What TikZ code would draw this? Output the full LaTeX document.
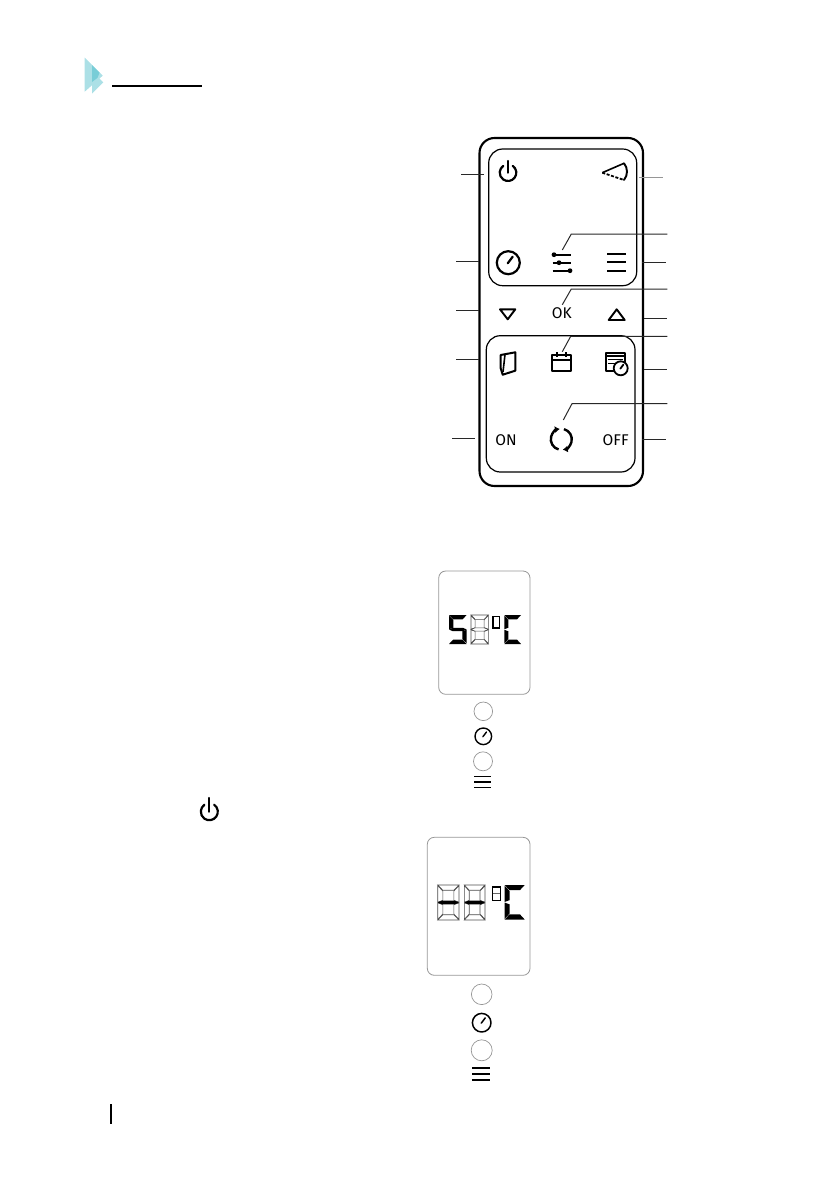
\documentclass[tikz,border=0pt]{standalone}
\usepackage{fontspec}
\setmainfont{Fira Sans}
\usepackage{tikz}
\usetikzlibrary{arrows.meta}
\definecolor{RemTeal}{RGB}{172,224,230}
\definecolor{RemTealDark}{RGB}{120,205,215}
\definecolor{RemGray}{RGB}{150,150,150}
\definecolor{RemLeader}{RGB}{40,40,40}
\tikzset{
  rem/case/.style={draw=black, line width=2.1pt, rounded corners=15pt},
  rem/panel/.style={draw=black, line width=1.2pt, rounded corners=14pt},
  rem/screen/.style={draw=RemGray, line width=0.8pt, rounded corners=7pt},
  rem/icon/.style={draw=black, line width=2.2pt, line cap=round, line join=round},
  rem/thin/.style={draw=black, line width=1.6pt, line join=round},
  rem/leader/.style={draw=RemLeader, line width=1pt},
  rem/label/.style={font=\fontsize{15.5}{15.5}\selectfont, inner sep=0pt, text=black},
  rem/blank/.style={draw=RemGray, line width=0.7pt},
  rem/segon/.style={fill=black},
  rem/segoff/.style={draw=black!70, line width=0.6pt},
  rem/logo/.style={fill=RemTeal}
}
% args: scope options, then segments a b c d e f g
\newcommand{\segdigit}[8]{%
  \begin{scope}[#1]
    \path[#2] (0,0) -- (1,0) -- (.76,.15) -- (.24,.15) -- cycle;
    \path[#3] (1,.02) -- (.76,.17) -- (.76,.44) -- (1,.49) -- cycle;
    \path[#4] (1,.51) -- (.76,.56) -- (.76,.83) -- (1,.98) -- cycle;
    \path[#5] (0,1) -- (1,1) -- (.76,.85) -- (.24,.85) -- cycle;
    \path[#6] (0,.51) -- (.24,.56) -- (.24,.83) -- (0,.98) -- cycle;
    \path[#7] (0,.02) -- (.24,.17) -- (.24,.44) -- (0,.49) -- cycle;
    \path[#8] (0,.5) -- (.2,.445) -- (.8,.445) -- (1,.5) -- (.8,.555) -- (.2,.555) -- cycle;
  \end{scope}}
% args: centre x, centre y, radius, line width
\newcommand{\gaugeicon}[4]{%
  \draw[rem/icon, line width=#4] (#1,#2) circle[radius=#3];
  \draw[rem/icon, line width=#4] (#1-0.05*#3,#2+0.05*#3) -- (#1+0.38*#3,#2-0.52*#3);}
% args: centre x, centre y, radius, stem top y
\newcommand{\powericon}[4]{%
  \draw[rem/icon] (#1,#2) ++(-55:#3) arc[start angle=-55, end angle=235, radius=#3];
  \draw[rem/icon] (#1,#4) -- (#1,#2);}
% args: x from, x to, y1, y2, y3
\newcommand{\menuicon}[5]{%
  \draw[rem/thin, line width=1.8pt] (#1,#3) -- (#2,#3);
  \draw[rem/thin, line width=1.8pt] (#1,#4) -- (#2,#4);
  \draw[rem/thin, line width=1.8pt] (#1,#5) -- (#2,#5);}
\begin{document}
\begin{tikzpicture}[x=1pt,y=-1pt]
  \useasboundingbox (0,0) rectangle (839,1191);
  % page header and page mark
  \fill[rem/logo] (84.7,57.7) -- (102.7,75.7) -- (84.7,91.7) -- cycle;
  \fill[rem/logo] (92,71.7) -- (103.3,82.3) -- (92,93.7) -- cycle;
  \fill[RemTealDark] (92,65) -- (99.5,72.7) -- (97.5,77.8) -- (92,82) -- cycle;
  \coordinate (headL) at (112,85.7);
  \coordinate (headR) at (202,85.7);
  \draw[black, line width=1.7pt] (headL) -- (headR);
  \coordinate (markT) at (110.7,1104);
  \coordinate (markB) at (110.7,1124);
  \draw[black, line width=1.6pt] (markT) -- (markB);

  % remote control
  \draw[rem/case] (479.5,138) rectangle (643,486);
  \draw[rem/panel] (488.7,149) rectangle (636.7,285.7);
  \draw[rem/panel] (486.3,335.7) rectangle (635,472);

  \powericon{508}{172.7}{8.3}{161}
  \draw[rem/thin] (624,163.3) -- (602.3,172.7);
  \draw[rem/thin, line width=1.8pt, dash pattern=on 3pt off 1.6pt] (602.3,172.7) -- (624,180);
  \draw[rem/icon, line width=1.9pt] (624,163.3) .. controls (628,168) and (628,175) .. (624,180);
  \gaugeicon{508.3}{262.7}{11.5}{2.2pt}

  \draw[rem/thin] (552.7,254.7) -- (570.7,254.7);
  \draw[rem/thin] (552.7,262.7) -- (570.7,262.7);
  \draw[rem/thin] (552.7,270.7) -- (570.7,270.7);
  \fill (554,254.7) circle[radius=2.4];
  \fill (559,262.7) circle[radius=2.4];
  \fill (570,270.7) circle[radius=2.4];
  \menuicon{607.3}{626}{254}{262.3}{270.7}

  \draw[rem/icon, line width=1.9pt] (500,309.3) -- (515.3,309.3) -- (507.7,319.3) -- cycle;
  \draw[rem/icon, line width=1.9pt] (608.7,320) -- (624.7,320) -- (616.7,309.3) -- cycle;
  \node[rem/label] (okLabel) at (561.7,313.3) {OK};

  \draw[rem/icon, line width=2pt] (500.7,355) -- (515.3,352.3) -- (515.3,370.7) -- (502.7,374.7) -- (500.7,368.3) -- cycle;
  \draw[rem/thin] (505,354.5) -- (503,372);
  \draw[rem/icon, line width=1.9pt] (552.3,355) rectangle (570.7,371);
  \draw[rem/thin] (552.3,360) -- (570.7,360);
  \draw[rem/thin] (556.7,352) -- (556.7,356.7);
  \draw[rem/thin] (566,352) -- (566,356.7);

  \draw[rem/icon, line width=1.8pt] (606,352.7) rectangle (625.3,371.3);
  \draw[black, line width=2.4pt] (606,355.7) -- (625.3,355.7);
  \draw[black, line width=1.1pt] (608,359.6) -- (623,359.6);
  \draw[black, line width=1.1pt] (608,363.3) -- (617,363.3);
  \fill[white] (620.7,368.3) circle[radius=7.5];
  \gaugeicon{620.7}{368.3}{7}{1.8pt}

  \node[rem/label] (onLabel) at (506,440) {ON};
  \node[rem/label] (offLabel) at (615.7,440) {OFF};
  \draw[-{Latex[length=5pt,width=7pt]}, line width=2.4pt] (561.3,439.3) ++(105:10.5) arc[start angle=105, end angle=262, radius=10.5];
  \draw[-{Latex[length=5pt,width=7pt]}, line width=2.4pt] (561.3,439.3) ++(-75:10.5) arc[start angle=-75, end angle=82, radius=10.5];

  % leader lines, left side
  \coordinate (powerA) at (461,174);
  \coordinate (powerB) at (484,174);
  \coordinate (gaugeA) at (456,261.3);
  \coordinate (gaugeB) at (479.3,261.3);
  \coordinate (downA) at (456,310.3);
  \coordinate (downB) at (479.3,310.3);
  \coordinate (doorA) at (456,359.3);
  \coordinate (doorB) at (479.3,359.3);
  \coordinate (onA) at (452,438);
  \coordinate (onB) at (475,438);
  \draw[rem/leader] (powerA) -- (powerB);
  \draw[rem/leader] (gaugeA) -- (gaugeB);
  \draw[rem/leader] (downA) -- (downB);
  \draw[rem/leader] (doorA) -- (doorB);
  \draw[rem/leader] (onA) -- (onB);

  % leader lines, right side
  \coordinate (hornA) at (639.3,177.7);
  \coordinate (hornB) at (662.7,177.7);
  \coordinate (slideA) at (562.3,250);
  \coordinate (slideM) at (571.3,234);
  \coordinate (slideB) at (667.3,234);
  \coordinate (menuA) at (642.3,262.3);
  \coordinate (menuB) at (666,262.3);
  \coordinate (okA) at (562.3,304.7);
  \coordinate (okM) at (571.3,289);
  \coordinate (okB) at (667.3,289);
  \coordinate (upA) at (644,318.3);
  \coordinate (upB) at (667.3,318.3);
  \coordinate (calA) at (562.3,351.7);
  \coordinate (calM) at (570.7,336.3);
  \coordinate (calB) at (667.3,336.3);
  \coordinate (timerA) at (644,369.3);
  \coordinate (timerB) at (667.3,369.3);
  \coordinate (cycleA) at (563.3,420);
  \coordinate (cycleM) at (572,403.7);
  \coordinate (cycleB) at (667.3,403.7);
  \coordinate (offA) at (642,439.3);
  \coordinate (offB) at (666,439.3);
  \draw[rem/leader, draw=RemGray] (hornA) -- (hornB);
  \draw[rem/leader] (slideA) -- (slideM) -- (slideB);
  \draw[rem/leader] (menuA) -- (menuB);
  \draw[rem/leader] (okA) -- (okM) -- (okB);
  \draw[rem/leader] (upA) -- (upB);
  \draw[rem/leader] (calA) -- (calM) -- (calB);
  \draw[rem/leader] (timerA) -- (timerB);
  \draw[rem/leader] (cycleA) -- (cycleM) -- (cycleB);
  \draw[rem/leader] (offA) -- (offB);

  % first display
  \draw[rem/screen] (438.7,571) rectangle (530,694.3);
  \segdigit{shift={(449,615)},x=17.7pt,y=-29pt}{rem/segon}{rem/segoff,draw=none}{rem/segon}{rem/segon}{rem/segoff,draw=none}{rem/segon}{rem/segon}
  \segdigit{shift={(471,615)},x=17.3pt,y=-29pt}{rem/segoff}{rem/segoff}{rem/segoff}{rem/segoff}{rem/segoff}{rem/segoff}{rem/segoff}
  \draw[black, line width=1.2pt] (493,616.5) rectangle (499.5,628);
  \segdigit{shift={(504.3,615)},x=16.7pt,y=-29pt}{rem/segon}{rem/segoff,draw=none}{rem/segoff,draw=none}{rem/segon}{rem/segon}{rem/segon}{rem/segoff,draw=none}

  \draw[rem/blank] (483.3,711.3) circle[radius=9.3];
  \gaugeicon{483.3}{736.3}{8.3}{1.4pt}
  \draw[rem/blank] (483,761.3) circle[radius=9.5];
  \draw[black, line width=1pt] (474.3,776.3) -- (490.7,776.3);
  \draw[black, line width=2pt] (474.3,781.7) -- (490.7,781.7);
  \draw[black, line width=1pt] (474.3,787.3) -- (490.7,787.3);

  \powericon{209.3}{811.7}{8.5}{798}

  % second display
  \draw[rem/screen] (427.3,837.3) rectangle (530,975.3);
  \segdigit{shift={(437.7,885)},x=21.3pt,y=-35pt}{rem/segoff}{rem/segoff}{rem/segoff}{rem/segoff}{rem/segoff}{rem/segoff}{rem/segon}
  \segdigit{shift={(464.3,885)},x=20.7pt,y=-35pt}{rem/segoff}{rem/segoff}{rem/segoff}{rem/segoff}{rem/segoff}{rem/segoff}{rem/segon}
  \draw[black, line width=1.2pt] (492.5,887) rectangle (500.2,900.5);
  \draw[black!60, line width=0.6pt] (492.5,893.7) -- (500.2,893.7);
  \segdigit{shift={(504.7,885)},x=20pt,y=-34.5pt}{rem/segon}{rem/segoff,draw=none}{rem/segoff,draw=none}{rem/segon}{rem/segon}{rem/segon}{rem/segoff,draw=none}

  \draw[rem/blank] (481.7,994.3) circle[radius=10.3];
  \gaugeicon{481.7}{1022.7}{9.3}{1.5pt}
  \draw[rem/blank] (481.7,1050.3) circle[radius=10.5];
  \menuicon{472}{490}{1067.7}{1074}{1080}
\end{tikzpicture}
\end{document}
